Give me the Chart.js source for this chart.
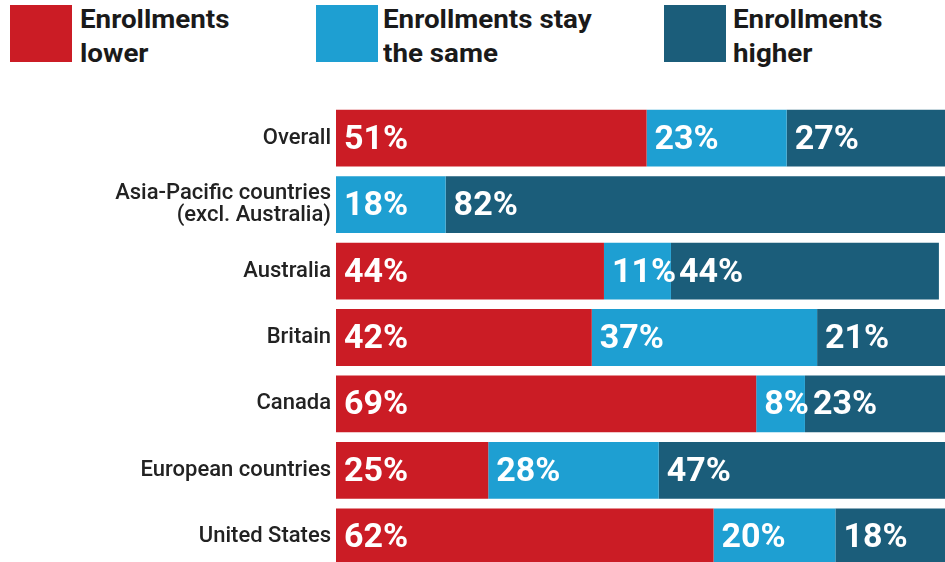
<!DOCTYPE html>
<html>
<head>
<meta charset="utf-8">
<script src="https://cdn.jsdelivr.net/npm/chart.js@4.4.1/dist/chart.umd.min.js"></script>
<style>
  html, body { margin: 0; padding: 0; background: #fff; overflow: hidden; }
  body { width: 945px; height: 562px; position: relative; font-family: Roboto, "Noto Sans", sans-serif; }
  .sw { position: absolute; top: 5px; width: 62px; height: 57px; }
  .tx { position: absolute; top: 3px; font-weight: 700; font-size: 25px; line-height: 34px; color: #1a1a1a;
        white-space: nowrap; transform: scaleX(1.11); transform-origin: left top; }
  #wrap { position: absolute; left: 0; top: 0; width: 945px; height: 586px; }
</style>
</head>
<body>
<div id="legend"></div>
<div id="wrap"><canvas id="enrollChart"></canvas></div>
<script>
// ===============================
// DONNEES
// ===============================

const categories = [
    'Overall',
    ['Asia-Pacific countries', '(excl. Australia)'],
    'Australia',
    'Britain',
    'Canada',
    'European countries',
    'United States'
];
const lower  = [51, 0, 44, 42, 69, 25, 62];
const same   = [23, 18, 11, 37, 8, 28, 20];
const higher = [27, 82, 44, 21, 23, 47, 18];

const seriesNames = [['Enrollments', 'lower'], ['Enrollments stay', 'the same'], ['Enrollments', 'higher']];
const colors = ['#cb1c25', '#1e9fd2', '#1b5d7a'];

// ===============================
// LEGENDE (HTML)
// ===============================

const swatchX = [10, 316, 664];
const textX = [80, 383, 733];
const legend = document.getElementById('legend');
seriesNames.forEach((name, i) => {
    legend.insertAdjacentHTML('beforeend',
        '<div class="sw" style="left:' + swatchX[i] + 'px;background:' + colors[i] + '"></div>' +
        '<div class="tx" style="left:' + textX[i] + 'px">' + name.join('<br>') + '</div>');
});

// ===============================
// ETIQUETTES DANS LES BARRES
// ===============================

const barLabels = {
    id: 'barLabels',
    afterDatasetsDraw(chart) {
        const ctx = chart.ctx;
        ctx.save();
        ctx.fillStyle = '#ffffff';
        ctx.font = '700 34px Roboto';
        ctx.textAlign = 'left';
        ctx.textBaseline = 'middle';
        chart.data.datasets.forEach((ds, d) => {
            chart.getDatasetMeta(d).data.forEach((bar, i) => {
                const v = ds.data[i];
                if (!v) return;
                const p = bar.getProps(['base', 'y'], true);
                ctx.fillText(v + '%', p.base + 8, p.y + 2);
            });
        });
        ctx.restore();
    }
};

// ===============================
// GRAPHIQUE
// ===============================

new Chart(document.getElementById('enrollChart'), {
    type: 'bar',
    data: {
        labels: categories,
        datasets: [lower, same, higher].map((vals, i) => ({
            label: seriesNames[i].join(' '),
            data: vals,
            backgroundColor: colors[i],
            borderWidth: 0,
            categoryPercentage: 1,
            barPercentage: 0.855
        }))
    },
    options: {
        indexAxis: 'y',
        responsive: true,
        maintainAspectRatio: false,
        animation: false,
        layout: { padding: { top: 105, left: 0, right: 0, bottom: 0 } },
        plugins: {
            legend: { display: false },
            tooltip: { enabled: false }
        },
        scales: {
            x: {
                stacked: true,
                display: false,
                min: 0,
                max: 100
            },
            y: {
                stacked: true,
                grid: { display: false, drawTicks: false },
                border: { display: false },
                ticks: {
                    color: '#222',
                    padding: 5,
                    font: { family: 'Roboto', size: 22, weight: '500', lineHeight: 1.0 }
                },
                afterFit: scale => { scale.width = 336; }
            }
        }
    },
    plugins: [barLabels]
});
</script>
</body>
</html>
